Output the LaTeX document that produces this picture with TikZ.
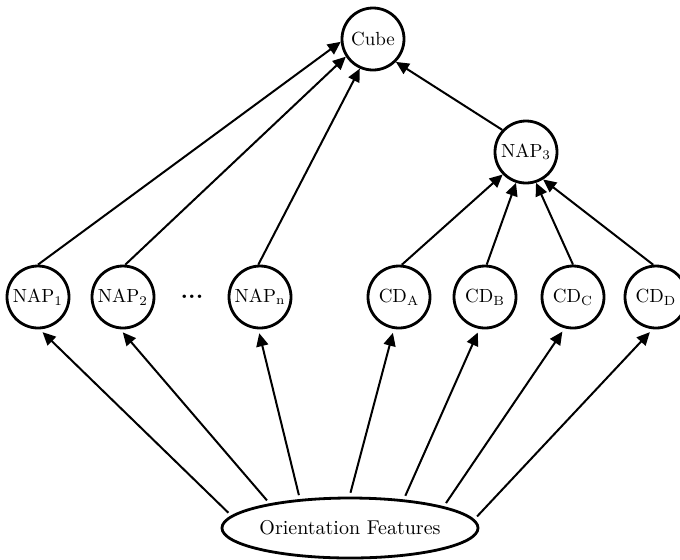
\documentclass[tikz,border=0pt]{standalone}
\usepackage{tikz}
\usetikzlibrary{arrows.meta,shapes.geometric}

\begin{document}
\begin{tikzpicture}[x=0.5pt,y=-0.5pt,
  unit/.style={circle,draw,line width=1.4pt,minimum size=31pt,inner sep=0pt,
               font=\fontsize{9.5}{11}\selectfont},
  feat/.style={ellipse,draw,line width=1.4pt,minimum width=125pt,
               minimum height=30pt,inner sep=0pt,font=\fontsize{10}{12}\selectfont},
  arr/.style={-{Triangle[length=6.5pt,width=6pt]},line width=1pt},
  low/.style={arr,shorten <=2pt,shorten >=2pt}]
\useasboundingbox (0,0) rectangle (680,559);
\node[unit] (cube) at (373,39) {Cube};
\node[unit] (nap3) at (526,152) {NAP\textsubscript{3}};
\node[unit] (nap1) at (38,297) {NAP\textsubscript{1}};
\node[unit] (nap2) at (123,297) {NAP\textsubscript{2}};
\node[font=\fontsize{12}{14}\selectfont\bfseries] (dots) at (192,297) {...};
\node[unit] (napn) at (260,297) {NAP\textsubscript{n}};
\node[unit] (cda) at (399,297) {CD\textsubscript{A}};
\node[unit] (cdb) at (485,297) {CD\textsubscript{B}};
\node[unit] (cdc) at (573,297) {CD\textsubscript{C}};
\node[unit] (cdd) at (656,297) {CD\textsubscript{D}};
\node[feat] (feat) at (350,528) {Orientation Features};
% upper level
\draw[arr] (nap1.90) -- (cube.185);
\draw[arr] (nap2.86) -- (cube.213);
\draw[arr] (napn.93) -- (cube.246);
\draw[arr] (nap3.137) -- (cube.315);
\draw[arr] (cda.85) -- (nap3.224);
\draw[arr] (cdb.87) -- (nap3.252);
\draw[arr] (cdc.90) -- (nap3.288);
\draw[arr] (cdd.95) -- (nap3.302);
% from the features
\draw[low] (feat.174) -- (nap1.273);
\draw[low] (feat.163) -- (nap2.265);
\draw[low] (feat.150) -- (napn.267);
\draw[low] (feat.91) -- (cda.261);
\draw[low] (feat.28) -- (cdb.260);
\draw[low] (feat.13) -- (cdc.255);
\draw[low] (feat.4) -- (cdd.264);
\end{tikzpicture}
\end{document}
